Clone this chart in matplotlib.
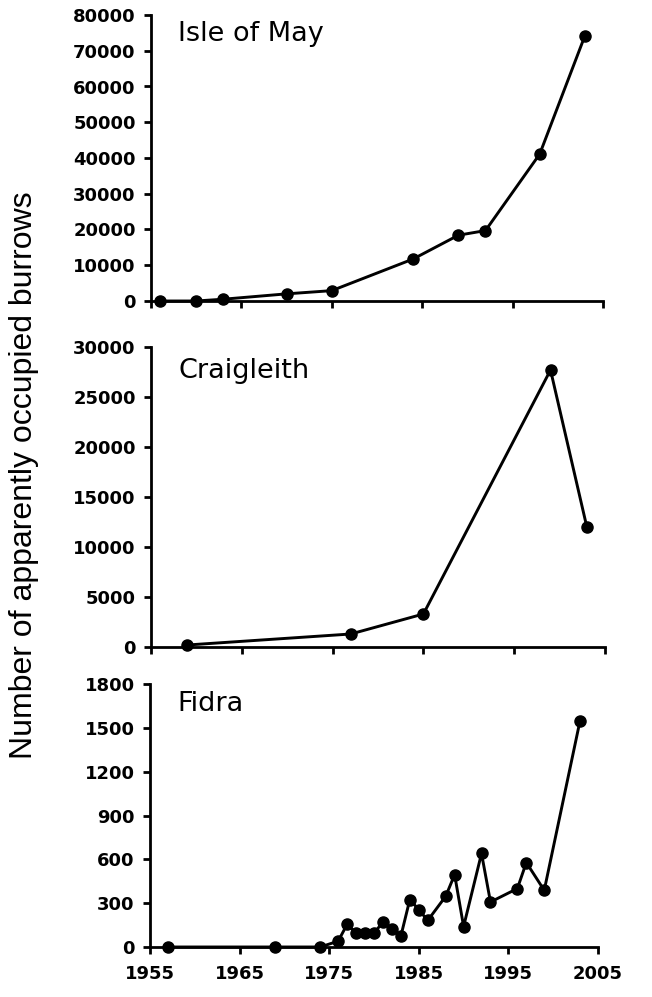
import matplotlib
matplotlib.use('Agg')
import matplotlib.pyplot as plt

# Isle of May
may_years = [1956, 1960, 1963, 1970, 1975, 1984, 1989, 1992, 1998, 2003]
may_burrows = [0, 0, 500, 2000, 2900, 11750, 18400, 19700, 41100, 74200]

# Craigleith
craig_years = [1959, 1977, 1985, 1999, 2003]
craig_burrows = [200, 1300, 3300, 27700, 12000]

# Fidra
fidra_years = [1957, 1969, 1974, 1976, 1977, 1978, 1979, 1980, 1981, 1982,
               1983, 1984, 1985, 1986, 1988, 1989, 1990, 1992, 1993, 1996,
               1997, 1999, 2003]
fidra_burrows = [0, 0, 0, 40, 155, 95, 95, 95, 170, 120,
                 75, 325, 255, 182, 347, 495, 140, 640, 308, 400,
                 578, 388, 1550]

x_ticks = [1955, 1965, 1975, 1985, 1995, 2005]
ylabel = 'Number of apparently occupied burrows'

W, H = 652, 997
fig = plt.figure(figsize=(W / 100, H / 100), dpi=100)

def make_axes(left, right, top, bottom):
    return fig.add_axes([left / W, 1 - bottom / H, (right - left) / W, (bottom - top) / H])

panels = [
    # name, years, values, ymax, ystep, (left, right, top, bottom), label baseline
    ('Isle of May', may_years, may_burrows, 80000, 10000, (151, 603, 15, 301), 41),
    ('Craigleith', craig_years, craig_burrows, 30000, 5000, (151, 605, 347, 647), 378),
    ('Fidra', fidra_years, fidra_burrows, 1800, 300, (150, 598, 684, 947), 711),
]

for i, (name, years, vals, ymax, ystep, box, base) in enumerate(panels):
    ax = make_axes(*box)
    ax.plot(years, vals, color='black', lw=2.1, marker='o', ms=8,
            clip_on=False, zorder=3)
    ax.set_xlim(1955, 2005)
    ax.set_ylim(0, ymax)
    ax.set_yticks(range(0, ymax + 1, ystep))
    ax.set_xticks(x_ticks)
    for s in ['top', 'right']:
        ax.spines[s].set_visible(False)
    for s in ['left', 'bottom']:
        ax.spines[s].set_linewidth(2.0)
    ax.tick_params(direction='out', length=5, width=2.0, pad=6)
    for lab in ax.get_yticklabels():
        lab.set_family('DejaVu Sans')
        lab.set_fontweight('bold')
        lab.set_fontsize(13)
    if i < 2:
        ax.set_xticklabels([])
    else:
        ax.tick_params(axis='x', pad=8)
        for lab in ax.get_xticklabels():
            lab.set_family('DejaVu Sans')
            lab.set_fontweight('bold')
            lab.set_fontsize(13)
    fig.text((box[0] + 27) / W, 1 - base / H, name, fontsize=19.5,
             family='DejaVu Sans', va='baseline', ha='left')

fig.text(24 / W, 1 - 475 / H, ylabel, rotation=90, fontsize=23,
         family='Liberation Sans', va='center', ha='center')

fig.savefig('out.png', dpi=100)
